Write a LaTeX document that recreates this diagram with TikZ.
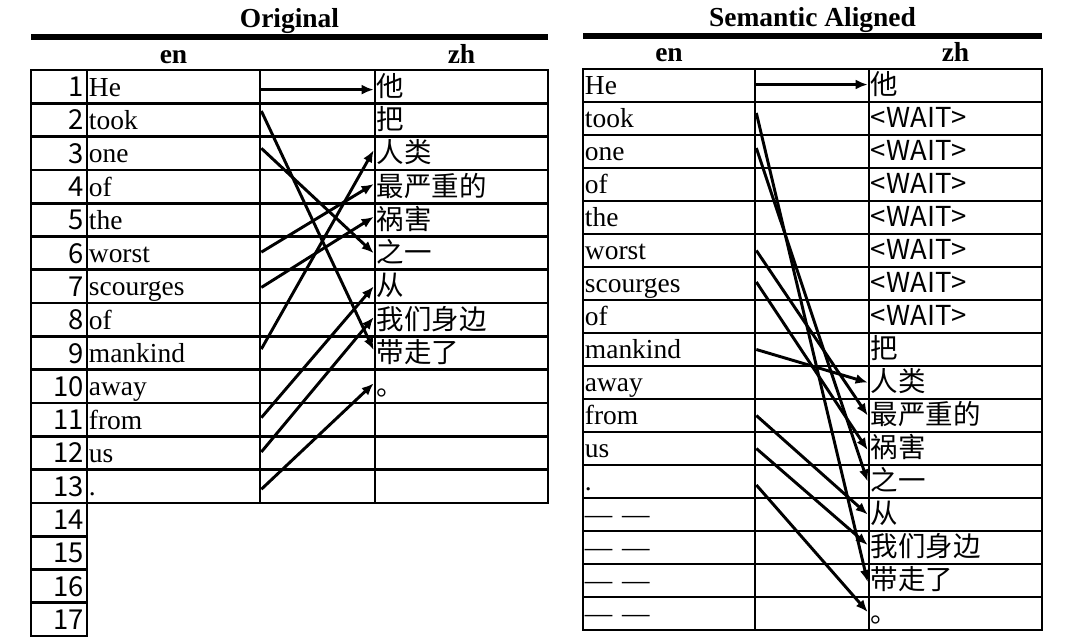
\documentclass[tikz,border=0pt]{standalone}
\usepackage{fontspec}
\setmainfont{Liberation Serif}
\newfontfamily\cjk{Noto Sans CJK SC}
\usetikzlibrary{calc,fit,arrows.meta}
\begin{document}
\begin{tikzpicture}[x=0.75pt,y=-0.75pt,
  grid/.style={draw=black,line width=2pt,inner sep=0pt},
  entext/.style={font=\fontsize{20.6}{24}\selectfont,inner sep=0pt,anchor=base west},
  zhtext/.style={font=\cjk\fontsize{20.6}{24}\selectfont,inner sep=0pt,anchor=base west},
  numtext/.style={font=\cjk\fontsize{20.6}{24}\selectfont,inner sep=0pt,anchor=base east},
  head/.style={font=\bfseries\fontsize{20.6}{24}\selectfont,inner sep=0pt,anchor=base},
  toprule/.style={line width=3.8pt},
  link/.style={line width=2.2pt,-{Latex[length=9pt,width=7.5pt]}}
]
\useasboundingbox (0,0) rectangle (1070,640);

% ---------------- Left table: Original ----------------
\node[head] (tL) at (289.5,27.5) {Original};
\draw[toprule] (31,37) -- (548,37);
\node[head] (enL) at (173.5,63.5) {en};
\node[head] (zhL) at (461.5,63.5) {zh};

\foreach \i in {1,...,17}{
  \pgfmathsetmacro\ya{70+33.3*(\i-1)}
  \pgfmathsetmacro\yb{\ya+33.3}
  \node[grid, fit={(31,\ya) (87,\yb)}] (Ln\i) {};
  \node[numtext] (LnT\i) at ($(Ln\i.south east)+(-4,-8)$) {\i};
}
\foreach \i in {1,...,13}{
  \pgfmathsetmacro\ya{70+33.3*(\i-1)}
  \pgfmathsetmacro\yb{\ya+33.3}
  \node[grid, fit={(87,\ya) (260,\yb)}] (Lw\i) {};
  \node[grid, fit={(260,\ya) (375,\yb)}] (La\i) {};
  \node[grid, fit={(375,\ya) (548,\yb)}] (Lz\i) {};
}
\foreach \i/\w in {1/He,2/took,3/one,4/of,5/the,6/worst,7/scourges,8/of,9/mankind,10/away,11/from,12/us,13/.}{
  \node[entext] (LwT\i) at ($(Lw\i.south west)+(3,-8.5)$) {\w};
}
\foreach \i/\w in {1/他,2/把,3/人类,4/最严重的,5/祸害,6/之一,7/从,8/我们身边,9/带走了,10/。}{
  \node[zhtext] (LzT\i) at ($(Lz\i.south west)+(3,-8.5)$) {\w};
}

\draw[link] ($(Lw1.east)+(0,3)$) -- ($(Lz1.west)+(0,3)$);
\draw[link] ($(Lw2.east)+(0,-9)$) -- ($(Lz9.west)+(0,-3)$);
\draw[link] ($(Lw3.east)+(0,-5)$) -- ($(Lz6.west)+(0,0)$);
\draw[link] ($(Lw6.east)+(0,-1)$) -- ($(Lz4.west)+(0,-2.5)$);
\draw[link] ($(Lw7.east)+(0,1)$) -- ($(Lz5.west)+(0,-3)$);
\draw[link] ($(Lw9.east)+(0,-4)$) -- ($(Lz3.west)+(0,-3)$);
\draw[link] ($(Lw11.east)+(0,-2)$) -- ($(Lz7.west)+(0,0)$);
\draw[link] ($(Lw12.east)+(0,-1)$) -- ($(Lz8.west)+(0,-2.5)$);
\draw[link] ($(Lw13.east)+(0,3)$) -- ($(Lz10.west)+(0,-3)$);

% ---------------- Right table: Semantic Aligned ----------------
\node[head] (tR) at (812.5,26.7) {Semantic Aligned};
\draw[toprule] (583,36) -- (1042,36);
\node[head] (enR) at (669,61) {en};
\node[head] (zhR) at (955.5,61) {zh};

\foreach \i in {1,...,17}{
  \pgfmathsetmacro\ya{69+33*(\i-1)}
  \pgfmathsetmacro\yb{\ya+33}
  \node[grid, fit={(583,\ya) (755,\yb)}] (Rw\i) {};
  \node[grid, fit={(755,\ya) (869,\yb)}] (Ra\i) {};
  \node[grid, fit={(869,\ya) (1042,\yb)}] (Rz\i) {};
}
\foreach \i/\w in {1/He,2/took,3/one,4/of,5/the,6/worst,7/scourges,8/of,9/mankind,10/away,11/from,12/us,13/.,14/—\hspace{0.35em}—,15/—\hspace{0.35em}—,16/—\hspace{0.35em}—,17/—\hspace{0.35em}—}{
  \node[entext] (RwT\i) at ($(Rw\i.south west)+(3,-8.5)$) {\w};
}
\foreach \i/\w in {1/他,2/<WAIT>,3/<WAIT>,4/<WAIT>,5/<WAIT>,6/<WAIT>,7/<WAIT>,8/<WAIT>,9/把,10/人类,11/最严重的,12/祸害,13/之一,14/从,15/我们身边,16/带走了,17/。}{
  \node[zhtext] (RzT\i) at ($(Rz\i.south west)+(3,-8.5)$) {\w};
}

\draw[link] ($(Rw1.east)+(0,-1)$) -- ($(Rz1.west)+(0,-1)$);
\draw[link] ($(Rw2.east)+(0,-5.5)$) -- ($(Rz16.west)+(0,1.5)$);
\draw[link] ($(Rw3.east)+(0,-3.5)$) -- ($(Rz13.west)+(0,0)$);
\draw[link] ($(Rw6.east)+(0,0)$) -- ($(Rz11.west)+(0,0)$);
\draw[link] ($(Rw7.east)+(0,-1.5)$) -- ($(Rz12.west)+(0,1.5)$);
\draw[link] ($(Rw9.east)+(0,0)$) -- ($(Rz10.west)+(0,0)$);
\draw[link] ($(Rw11.east)+(0,0)$) -- ($(Rz14.west)+(0,0)$);
\draw[link] ($(Rw12.east)+(0,0)$) -- ($(Rz15.west)+(0,-2.5)$);
\draw[link] ($(Rw13.east)+(0,3.5)$) -- ($(Rz17.west)+(0,-1.5)$);
\end{tikzpicture}
\end{document}
